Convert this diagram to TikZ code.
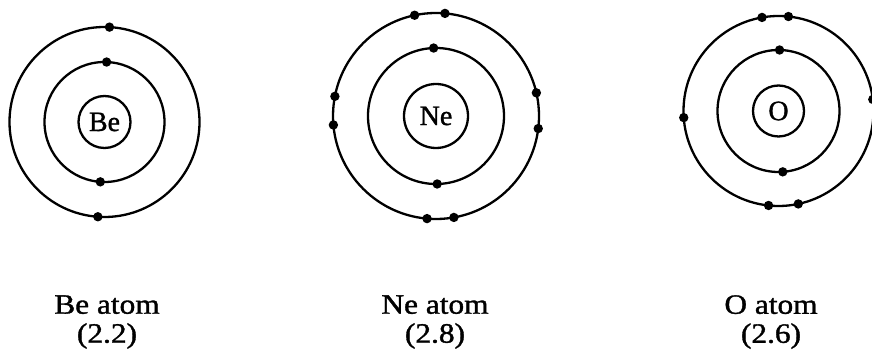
\documentclass[tikz,border=0pt]{standalone}
\usepackage{fontspec}
\setmainfont{Liberation Serif}[FakeBold=1.2]
\begin{document}
\begin{tikzpicture}[x=1pt,y=1pt,
  shell/.style={line width=2.3pt},
  nuc/.style={circle, draw, line width=2.3pt, inner sep=0pt,
    font=\fontsize{28}{28}\selectfont},
  elec/.style={fill=black},
  lbl/.style={align=center, font=\fontsize{28}{29}\selectfont,
    xscale=1.12, transform shape}]
  \useasboundingbox (0,0) rectangle (872,350);
  % Be atom.
  \begin{scope}[shift={(104.5,228)}]
    \node[nuc, minimum size=52pt] (Be) at (0,0) {Be};
    \draw[shell] (Be.center) circle (60pt);
    \draw[shell] (Be.center) circle (95pt);
    \fill[elec] (88:60pt) circle (4.7pt);
    \fill[elec] (266:60pt) circle (4.7pt);
    \fill[elec] (87:95pt) circle (4.7pt);
    \fill[elec] (266:95pt) circle (4.7pt);
  \end{scope}
  % Ne atom.
  \begin{scope}[shift={(436,234)}]
    \node[nuc, minimum size=64pt] (Ne) at (0,0) {Ne};
    \draw[shell] (Ne.center) circle (68pt);
    \draw[shell] (Ne.center) circle (103pt);
    \fill[elec] (92:68pt) circle (4.7pt);
    \fill[elec] (271:68pt) circle (4.7pt);
    \foreach \a in {85,102,169,185,13,-7,265,280}
      \fill[elec] (\a:103pt) circle (4.7pt);
  \end{scope}
  % O atom.
  \begin{scope}[shift={(778.5,239)}]
    \node[nuc, minimum size=51pt] (O) at (0,0) {O};
    \draw[shell] (O.center) circle (61pt);
    \draw[shell] (O.center) circle (95pt);
    \fill[elec] (89:61pt) circle (4.7pt);
    \fill[elec] (274:61pt) circle (4.7pt);
    \foreach \a in {84,100,184,7,264,282}
      \fill[elec] (\a:95pt) circle (4.7pt);
  \end{scope}
  % labels
  \node[lbl] (BeLbl) at (107,28) {Be atom\\(2.2)};
  \node[lbl] (NeLbl) at (435,28) {Ne atom\\(2.8)};
  \node[lbl] (OLbl)  at (771,28) {O atom\\(2.6)};
\end{tikzpicture}
\end{document}
